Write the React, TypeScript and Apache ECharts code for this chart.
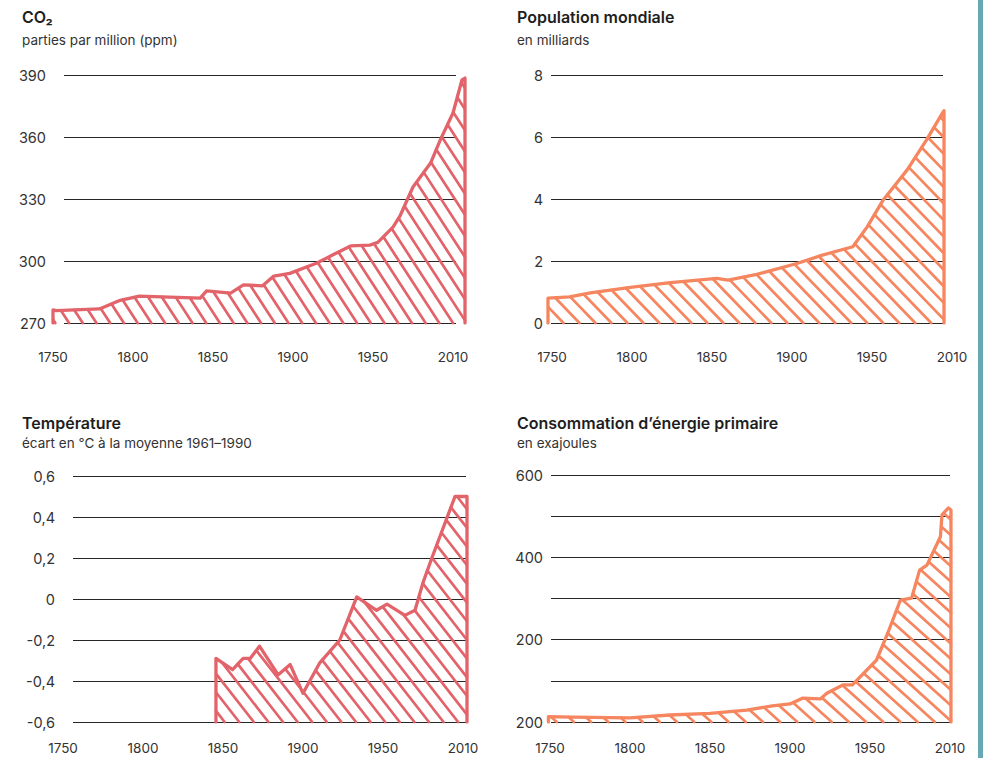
import React, { useEffect, useRef } from "react";
import * as echarts from "echarts";

// ---------- data ----------
const xTickYears = [1750, 1800, 1850, 1900, 1950, 2000];
const xTickLabels = ["1750", "1800", "1850", "1900", "1950", "2010"];

const co2Years = [1750, 1752, 1779, 1792, 1804, 1842, 1846, 1861, 1869, 1881, 1888, 1898, 1915, 1925, 1936, 1948, 1953, 1962.5, 1967, 1975, 1986, 1992, 2000, 2005.6, 2007.5];
const co2Values = [276.3, 276, 276.8, 281, 283, 282, 285.5, 284.5, 288.4, 288, 292.7, 294, 299, 303, 307.3, 307.7, 309, 316.4, 322, 335.8, 347.4, 358.5, 371.6, 387.6, 388.5];
const co2TickLabels = ["270", "300", "330", "360", "390"];

const popYears = [1747.5, 1761, 1774, 1799, 1824, 1853, 1860, 1878, 1903, 1919, 1938, 1947, 1957, 1972, 1984, 1994, 1995];
const popValues = [0.8, 0.84, 0.97, 1.15, 1.3, 1.44, 1.38, 1.57, 1.92, 2.19, 2.46, 3.1, 3.97, 4.94, 5.9, 6.77, 6.85];
const popTickLabels = ["0", "2", "4", "6", "8"];

const tempYears = [1845.6, 1856, 1862.6, 1867, 1872.8, 1884.5, 1892, 1900, 1910.6, 1923, 1933.6, 1946, 1952.5, 1963.7, 1970, 1975, 1981, 1995, 2002.5];
const tempValues = [-0.29, -0.345, -0.29, -0.29, -0.23, -0.37, -0.32, -0.46, -0.31, -0.2, 0.01, -0.055, -0.025, -0.08, -0.055, 0.08, 0.21, 0.5, 0.5];
const tempTickLabels = ["-0,6", "-0,4", "-0,2", "0", "0,2", "0,4", "0,6"];

const energyYears = [1749, 1764, 1800, 1825, 1850, 1873, 1889, 1900, 1908, 1919, 1923, 1933, 1939, 1954, 1961, 1969, 1976, 1981, 1985.6, 1994, 1995, 1999, 2000.6];
const energyValues = [13, 12, 10, 17, 21, 29, 39, 44, 58, 56, 70, 90, 90, 150, 215, 296, 301, 369, 381, 450, 503, 520, 515];
const energyTickLabels = ["200", "", "200", "", "400", "", "600"];

// ---------- style ----------
const RED = "#e2636a";
const ORANGE = "#f6865f";
const FONT = "Inter, 'Liberation Sans', sans-serif";

const panels = [
  {
    title: "CO₂", sub: "parties par million (ppm)", years: co2Years, values: co2Values,
    yMin: 270, yMax: 390, yStep: 30, yLabels: co2TickLabels, color: RED, angle: 57,
    glLeft: 64, glWidth: 392, dgLeft: 45, dgWidth: 424, xMin: 1745, xMax: 2010,
    top: 75, height: 248, titleLeft: 22, titleTop: 7, gap: 4, yMargin: 18, xMargin: 27,
  },
  {
    title: "Population mondiale", sub: "en milliards", years: popYears, values: popValues,
    yMin: 0, yMax: 8, yStep: 2, yLabels: popTickLabels, color: ORANGE, angle: 46,
    glLeft: 551, glWidth: 392, dgLeft: 544, dgWidth: 408, xMin: 1745, xMax: 2000,
    top: 75, height: 248, titleLeft: 517, titleTop: 7, gap: 4, yMargin: 8, xMargin: 27,
  },
  {
    title: "Température", sub: "écart en °C à la moyenne 1961–1990", years: tempYears, values: tempValues,
    yMin: -0.6, yMax: 0.6, yStep: 0.2, yLabels: tempTickLabels, color: RED, angle: 52,
    glLeft: 73, glWidth: 393, dgLeft: 55, dgWidth: 424, xMin: 1745, xMax: 2010,
    top: 476, height: 246, titleLeft: 22, titleTop: 413, gap: 1, yMargin: 18, xMargin: 19,
  },
  {
    title: "Consommation d’énergie primaire", sub: "en exajoules", years: energyYears, values: energyValues,
    yMin: 0, yMax: 600, yStep: 100, yLabels: energyTickLabels, color: ORANGE, angle: 42,
    glLeft: 551, glWidth: 399, dgLeft: 542, dgWidth: 416, xMin: 1745, xMax: 2005,
    top: 475, height: 247, titleLeft: 517, titleTop: 413, gap: 1, yMargin: 8, xMargin: 19,
  },
];

const HATCH_SPACING = 11.5;

function hatchSegments(pts: number[][], angleDeg: number) {
  const a = (angleDeg * Math.PI) / 180;
  const d = [Math.cos(a), Math.sin(a)];
  const n = [-d[1], d[0]];
  const proj = (p: number[]) => n[0] * p[0] + n[1] * p[1];
  let cmin = Infinity, cmax = -Infinity;
  pts.forEach((p) => { const c = proj(p); cmin = Math.min(cmin, c); cmax = Math.max(cmax, c); });
  const segs: number[][] = [];
  for (let c = Math.ceil(cmin / HATCH_SPACING) * HATCH_SPACING + 3; c <= cmax; c += HATCH_SPACING) {
    const hits: number[][] = [];
    for (let i = 0; i < pts.length; i++) {
      const P = pts[i], Q = pts[(i + 1) % pts.length];
      const fP = proj(P) - c, fQ = proj(Q) - c;
      if ((fP > 0) !== (fQ > 0)) {
        const t = fP / (fP - fQ);
        hits.push([P[0] + t * (Q[0] - P[0]), P[1] + t * (Q[1] - P[1])]);
      }
    }
    hits.sort((p1, p2) => (p1[0] * d[0] + p1[1] * d[1]) - (p2[0] * d[0] + p2[1] * d[1]));
    for (let k = 0; k + 1 < hits.length; k += 2) {
      segs.push([hits[k][0], hits[k][1], hits[k + 1][0], hits[k + 1][1]]);
    }
  }
  return segs;
}

function buildOption() {
  const grid: any[] = [];
  const xAxis: any[] = [];
  const yAxis: any[] = [];
  const series: any[] = [];
  const title: any[] = [];

  panels.forEach((p) => {
    // grid for gridlines + y labels
    grid.push({ left: p.glLeft, top: p.top, width: p.glWidth, height: p.height });
    const glIdx = grid.length - 1;
    xAxis.push({ gridIndex: glIdx, type: "value", min: 0, max: 1, show: false });
    yAxis.push({
      gridIndex: glIdx, type: "value", min: p.yMin, max: p.yMax, interval: p.yStep,
      axisLine: { show: false }, axisTick: { show: false },
      splitLine: { show: true, lineStyle: { color: "#262626", width: 1 } },
      axisLabel: {
        margin: p.yMargin, color: "#333", fontFamily: FONT, fontSize: 14.5,
        formatter: (v: number) => p.yLabels[Math.round((v - p.yMin) / p.yStep)] ?? "",
      },
    });
    // data grid
    grid.push({ left: p.dgLeft, top: p.top, width: p.dgWidth, height: p.height });
    const dIdx = grid.length - 1;
    xAxis.push({
      gridIndex: dIdx, type: "value", min: p.xMin, max: p.xMax,
      axisLine: { show: false }, axisTick: { show: false }, splitLine: { show: false },
      axisLabel: {
        customValues: xTickYears,
        margin: p.xMargin, color: "#333", fontFamily: FONT, fontSize: 13.5,
        formatter: (v: number) => { const k = xTickYears.indexOf(v); return k >= 0 ? xTickLabels[k] : ""; },
      },
    });
    yAxis.push({ gridIndex: dIdx, type: "value", min: p.yMin, max: p.yMax, show: false, splitLine: { show: false } });

    const years = p.years, values = p.values, base = p.yMin, color = p.color, angle = p.angle;
    series.push({
      type: "custom",
      xAxisIndex: dIdx, yAxisIndex: dIdx,
      data: [[years[0], values[0]]],
      silent: true, z: 2,
      renderItem: (params: any, api: any) => {
        const pts: number[][] = [];
        pts.push(api.coord([years[0], base]));
        years.forEach((y, k) => pts.push(api.coord([y, values[k]])));
        pts.push(api.coord([years[years.length - 1], base]));
        const segs = hatchSegments(pts, angle);
        return {
          type: "group",
          children: segs.map((s) => ({
            type: "line",
            shape: { x1: s[0], y1: s[1], x2: s[2], y2: s[3] },
            style: { stroke: color, lineWidth: 2.7, lineCap: "round" },
          })),
        };
      },
    });
    const lineData: number[][] = [[years[0], base]];
    years.forEach((y, k) => lineData.push([y, values[k]]));
    lineData.push([years[years.length - 1], base]);
    series.push({
      type: "line", xAxisIndex: dIdx, yAxisIndex: dIdx, data: lineData,
      showSymbol: false, silent: true, z: 3,
      lineStyle: { color, width: 3.3, cap: "round", join: "round" },
    });

    title.push({
      text: p.title, subtext: p.sub, left: p.titleLeft, top: p.titleTop, padding: 0, itemGap: p.gap,
      textStyle: { fontFamily: FONT, fontSize: 16, fontWeight: 600, color: "#1e1e1e", lineHeight: 20 },
      subtextStyle: { fontFamily: FONT, fontSize: 13.5, color: "#333", lineHeight: 18 },
    });
  });

  return {
    animation: false,
    backgroundColor: "#ffffff",
    title, grid, xAxis, yAxis, series,
    graphic: [
      { type: "rect", shape: { x: 978, y: 0, width: 5, height: 758 }, style: { fill: "#68a8b6" }, silent: true },
    ],
  };
}

export default function App() {
  const ref = useRef<HTMLDivElement>(null);
  useEffect(() => {
    if (!ref.current) return;
    const chart = echarts.init(ref.current, undefined, { renderer: "svg" });
    chart.setOption(buildOption() as any);
    return () => chart.dispose();
  }, []);
  return (
    <div
      ref={ref}
      style={{ position: "fixed", left: 0, top: 0, width: 985, height: 758, background: "#fff" }}
    />
  );
}
